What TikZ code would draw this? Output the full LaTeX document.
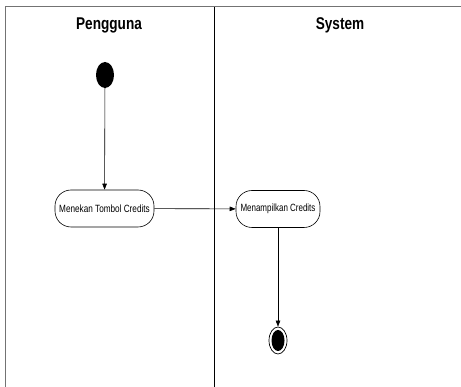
\documentclass[tikz,border=0pt]{standalone}
\usepackage{fontspec}
\usepackage{graphicx}
\setmainfont{Liberation Sans}
\usetikzlibrary{arrows.meta,shapes.geometric}
\newcommand{\narrowtext}[2]{\scalebox{#1}[1]{#2}}
\begin{document}
\begin{tikzpicture}[x=1pt,y=-1pt,
  frame/.style={draw=black!55, line width=1.2pt},
  divider/.style={draw=black, line width=0.9pt},
  lane/.style={font=\bfseries\fontsize{17}{19}\selectfont, inner sep=0pt},
  activity/.style={draw=black, line width=0.6pt, rounded corners=16pt, minimum width=99pt, minimum height=37pt, inner sep=2pt, font=\fontsize{10.5}{12}\selectfont},
  startnode/.style={ellipse, fill=black, minimum width=18pt, minimum height=26pt, inner sep=0pt},
  endring/.style={ellipse, draw=black, line width=0.7pt, minimum width=18pt, minimum height=27pt, inner sep=0pt},
  enddot/.style={ellipse, fill=black, minimum width=13pt, minimum height=21pt, inner sep=0pt},
  flow/.style={draw=black, line width=0.6pt, -{Triangle[length=6pt,width=4.5pt]}}]
\useasboundingbox (0,0) rectangle (461,387);
\draw[frame] (5.5,387) -- (5.5,6.5) -- (461,6.5);
\draw[divider] (214,7) -- (214,387);
\node[lane] (l1) at (109,25) {\narrowtext{0.8}{Pengguna}};
\node[lane] (l2) at (340,25) {\narrowtext{0.8}{System}};
\node[startnode] (start) at (105,75) {};
\node[activity] (a1) at (104.5,208.5) {\narrowtext{0.78}{Menekan Tombol Credits}};
\node[activity, minimum width=84pt] (a2) at (278,209) {\narrowtext{0.76}{Menampilkan Credits}};
\node[endring] (end) at (278,340.5) {};
\node[enddot] (endin) at (278,340.5) {};
\draw[flow] (start) -- (a1);
\draw[flow] (a1) -- (a2);
\draw[flow] (a2) -- (end);
\end{tikzpicture}
\end{document}
